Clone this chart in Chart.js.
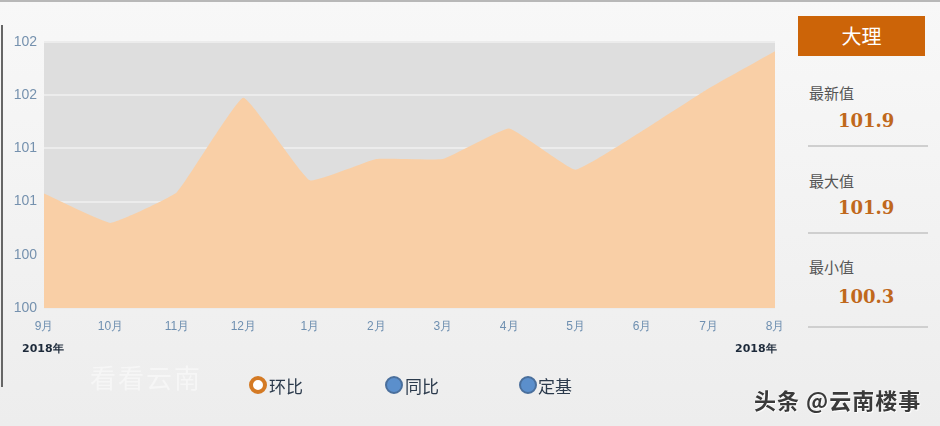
<!DOCTYPE html>
<html>
<head>
<meta charset="utf-8">
<script src="https://cdn.jsdelivr.net/npm/chart.js@4/dist/chart.umd.min.js"></script>
<style>
  body { margin: 0; width: 940px; height: 426px; overflow: hidden;
    background: linear-gradient(#f8f8f8, #ededed); font-family: "Noto Sans CJK SC", "Noto Sans", sans-serif; position: relative; }
  #topline { position: absolute; left: 0; top: 0; width: 940px; height: 2px; background: #b8b8b8; }
  #leftline { position: absolute; left: 1px; top: 25px; width: 2px; height: 362px; background: #666; }
  #wrap { position: absolute; left: 0; top: 0; width: 790px; height: 426px; }
  .year { position: absolute; top: 341px; font: bold 11px "DejaVu Sans", sans-serif; color: #1d2a3a; }
  .cityBox { position: absolute; left: 798px; top: 16px; width: 127px; height: 40px; background: #cc6408;
    color: #fff; font-size: 20px; text-align: center; line-height: 40px; }
  .lab { position: absolute; left: 809px; font-size: 15px; color: #555; }
  .val { position: absolute; left: 838px; font: bold 18px "DejaVu Serif", serif; color: #c0681c; }
  .sep { position: absolute; left: 808px; width: 120px; height: 2px; background: #cfcfcf; }
  .radio { position: absolute; top: 376px; width: 18px; height: 18px; border-radius: 50%; box-sizing: border-box; }
  .rtext { position: absolute; top: 373px; font-size: 17px; color: #2b3a4c; }
  #wm { position: absolute; left: 90px; top: 358px; font-size: 26px; color: rgba(255,255,255,0.45); letter-spacing: 2px; }
  #tt { position: absolute; left: 754px; top: 383px; font-size: 22px; font-weight: bold; color: #3a3a3a; letter-spacing: 1px; text-shadow: 0 0 2px #fff, 1px 1px 1px #fff; }
</style>
</head>
<body>
<div id="topline"></div>
<div id="leftline"></div>
<div id="wrap"><canvas id="c"></canvas></div>
<div class="year" style="left:22px">2018年</div>
<div class="year" style="left:735px">2018年</div>

<div class="cityBox">大理</div>
<div class="lab" style="top:82px">最新值</div>
<div class="val" style="top:110px">101.9</div>
<div class="sep" style="top:145px"></div>
<div class="lab" style="top:170px">最大值</div>
<div class="val" style="top:197px">101.9</div>
<div class="sep" style="top:232px"></div>
<div class="lab" style="top:256px">最小值</div>
<div class="val" style="top:286px">100.3</div>
<div class="sep" style="top:326px"></div>

<div class="radio" style="left:249px;border:4px solid #d47a24;background:#fff"></div>
<div class="rtext" style="left:269px">环比</div>
<div class="radio" style="left:385px;background:#5b8fcc;border:2px solid #4a6f9c"></div>
<div class="rtext" style="left:405px">同比</div>
<div class="radio" style="left:519px;background:#5b8fcc;border:2px solid #4a6f9c"></div>
<div class="rtext" style="left:538px">定基</div>

<div id="wm">看看云南</div>
<div id="tt">头条 @云南楼事</div>

<script>
  // months on the x axis
  const months = ["9月","10月","11月","12月","1月","2月","3月","4月","5月","6月","7月","8月"];
  // 环比 index values
  const values = [100.86, 100.64, 100.87, 101.58, 100.96, 101.12, 101.12, 101.35, 101.04, 101.33, 101.65, 101.93];
  // y axis ticks (labels shown rounded)
  const yTicks = [100, 100.4, 100.8, 101.2, 101.6, 102];

  const plotBg = {
    id: 'plotBg',
    beforeDraw(chart) {
      const a = chart.chartArea;
      const ctx = chart.ctx;
      ctx.save();
      ctx.fillStyle = '#dedede';
      ctx.fillRect(a.left, a.top, a.right - a.left, a.bottom - a.top);
      ctx.restore();
    }
  };

  const ctx = document.getElementById('c');
  new Chart(ctx, {
    type: 'line',
    data: {
      labels: months,
      datasets: [{
        data: values,
        fill: 'start',
        backgroundColor: '#f9cfa6',
        borderWidth: 0,
        pointRadius: 0,
        tension: 0.1
      }]
    },
    options: {
      responsive: true,
      maintainAspectRatio: false,
      animation: false,
      layout: { padding: { left: 0, right: 15, top: 42, bottom: 88 } },
      plugins: { legend: { display: false }, tooltip: { enabled: false } },
      scales: {
        x: {
          offset: false,
          grid: { display: false },
          border: { display: false },
          ticks: { color: '#6e8fb0', font: { size: 12 }, padding: 3, maxRotation: 0, autoSkip: false },
          afterFit(s) { s.height = 30; }
        },
        y: {
          min: 100, max: 102,
          afterBuildTicks(s) { s.ticks = yTicks.map(v => ({ value: v })); },
          grid: { color: '#ececec', lineWidth: 2, drawTicks: false },
          border: { display: false },
          ticks: {
            color: '#7591ae', font: { size: 14 }, padding: 7,
            callback: v => Math.round(v).toString()
          },
          afterFit(s) { s.width = 44; }
        }
      }
    },
    plugins: [plotBg]
  });
</script>
</body>
</html>
